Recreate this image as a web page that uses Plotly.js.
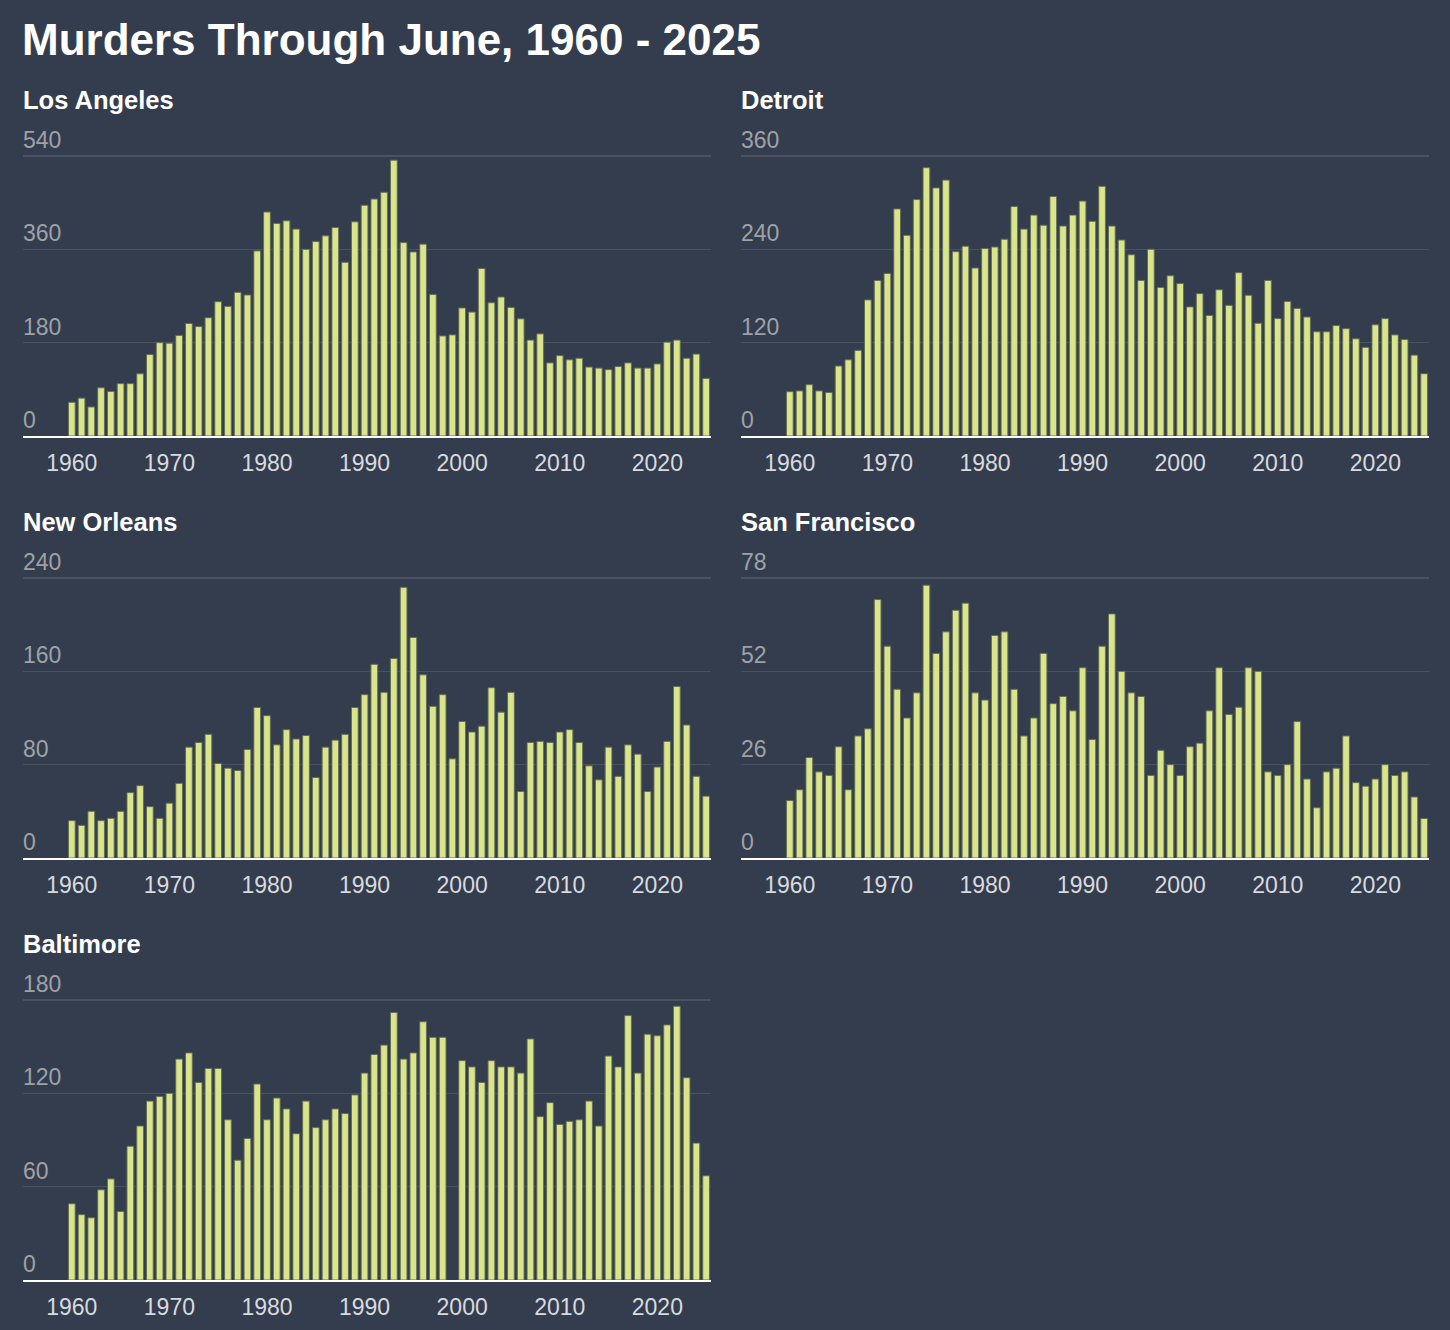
<!DOCTYPE html>
<html>
<head>
<meta charset="utf-8">
<script src="https://cdn.plot.ly/plotly-3.0.1.min.js"></script>
<style>
  html, body { margin: 0; padding: 0; background: #343d4d; }
  #chart { width: 1450px; height: 1330px; }
</style>
</head>
<body>
<div id="chart"></div>
<script>
// ---- Data ----
const years = [];
for (let y = 1960; y <= 2025; y++) years.push(y);

const losAngeles = [65,73,56,93,86,101,101,120,157,180,179,194,217,211,228,259,250,277,272,357,
  432,410,415,399,360,375,386,402,335,413,445,457,470,532,373,355,370,273,193,195,
  247,239,323,257,268,248,226,185,197,141,155,147,150,133,131,128,134,141,131,131,
  139,181,185,150,158,111];

const detroit = [57,58,66,58,56,90,98,110,175,200,209,292,258,304,345,319,329,237,244,216,
  241,243,253,295,266,284,271,308,270,284,302,276,321,270,252,233,200,240,191,206,
  196,166,183,155,188,168,210,181,145,200,151,173,164,153,134,134,142,138,125,114,
  143,151,130,124,104,80];

const newOrleans = [32,28,40,32,34,40,56,62,44,34,47,64,95,99,106,81,77,75,93,129,
  122,97,110,102,105,69,95,101,106,129,140,166,142,171,232,189,157,130,140,85,
  117,108,113,146,125,142,57,99,100,99,108,110,99,79,67,95,70,97,89,57,
  78,100,147,114,70,53];

const sanFrancisco = [16,19,28,24,23,31,19,34,36,72,59,47,39,46,76,57,63,69,71,46,
  44,62,63,47,34,39,57,43,45,41,53,33,59,68,52,46,45,23,30,26,
  23,31,32,41,53,40,42,53,52,24,23,26,38,22,14,24,25,34,21,20,
  22,26,23,24,17,11];

const baltimore = [49,42,40,58,65,44,86,99,115,118,120,142,146,127,136,136,103,77,91,126,
  103,117,110,94,115,98,103,110,107,119,133,145,151,172,142,146,166,156,156,null,
  141,137,127,141,137,137,133,155,105,114,100,102,103,115,99,144,137,170,133,158,
  157,164,176,130,88,67];

const cityNames = ["Los Angeles", "Detroit", "New Orleans", "San Francisco", "Baltimore"];
const cityValues = [losAngeles, detroit, newOrleans, sanFrancisco, baltimore];
const yTicks = [
  [0, 180, 360, 540],
  [0, 120, 240, 360],
  [0, 80, 160, 240],
  [0, 26, 52, 78],
  [0, 60, 120, 180]
];
const xTicks = [1960, 1970, 1980, 1990, 2000, 2010, 2020];
const chartTitle = "Murders Through June, 1960 - 2025";

// ---- Layout geometry (pixels) ----
const W = 1450, H = 1330;
const colLeft = [23, 741], colWidth = 688;
const rowBase = [436, 858, 1280];   // pixel y of zero line
const gridSpan = 280;               // px between 0 and top tick
const extra = 30;                   // extra px above top tick for labels
const FONT = '"Liberation Sans", Arial, Helvetica, sans-serif';

const traces = [];
const layout = {
  width: W, height: H,
  margin: {l: 0, r: 0, t: 0, b: 0},
  paper_bgcolor: '#343d4d',
  plot_bgcolor: '#343d4d',
  showlegend: false,
  hovermode: false,
  bargap: 0.31,
  font: {family: FONT, color: '#ffffff'},
  title: {
    text: '<b>' + chartTitle + '</b>',
    font: {family: FONT, size: 44, color: '#ffffff'},
    x: 22 / W, xanchor: 'left', xref: 'container',
    y: 1 - 40 / H, yanchor: 'middle', yref: 'container'
  },
  annotations: []
};

cityNames.forEach((name, i) => {
  const col = i % 2, row = Math.floor(i / 2);
  const n = i + 1;
  const xa = 'xaxis' + (n === 1 ? '' : n);
  const ya = 'yaxis' + (n === 1 ? '' : n);
  const xref = 'x' + (n === 1 ? '' : n);
  const yref = 'y' + (n === 1 ? '' : n);

  traces.push({
    type: 'bar',
    x: years,
    y: cityValues[i],
    xaxis: xref, yaxis: yref,
    marker: {color: '#d9e58a', line: {color: 'rgba(100,108,84,0.95)', width: 1}},
    width: 0.69
  });

  const x0 = colLeft[col] / W, x1 = (colLeft[col] + colWidth) / W;
  const yb = rowBase[row];
  const yt = yb - gridSpan - extra;
  const tmax = yTicks[i][yTicks[i].length - 1];

  layout[xa] = {
    domain: [x0, x1],
    anchor: yref,
    range: [1955, 2025.5],
    tickvals: xTicks,
    ticktext: xTicks.map(String),
    ticks: '',
    ticklabelstandoff: 5,
    showgrid: false,
    zeroline: false,
    showline: true,
    linecolor: '#ffffff',
    linewidth: 2,
    tickfont: {family: FONT, size: 23, color: '#d8dadf'},
    fixedrange: true
  };
  layout[ya] = {
    domain: [1 - yb / H, 1 - yt / H],
    anchor: xref,
    range: [0, tmax * (gridSpan + extra) / gridSpan],
    tickvals: yTicks[i],
    ticktext: yTicks[i].map(String),
    ticks: '',
    ticklabelposition: 'inside top',
    ticklabelstandoff: -3,
    showgrid: true,
    gridcolor: '#4a5262',
    gridwidth: 1.5,
    zeroline: false,
    showline: false,
    tickfont: {family: FONT, size: 23, color: '#9ea2a8'},
    fixedrange: true
  };

  layout.annotations.push({
    text: '<b>' + name + '</b>',
    xref: 'paper', yref: 'paper',
    x: (colLeft[col] - 2) / W, xanchor: 'left',
    y: 1 - (yb - 336) / H, yanchor: 'middle',
    showarrow: false,
    font: {family: FONT, size: 25.5, color: '#ffffff'}
  });
});

Plotly.newPlot('chart', traces, layout, {displayModeBar: false, staticPlot: true});
</script>
</body>
</html>
